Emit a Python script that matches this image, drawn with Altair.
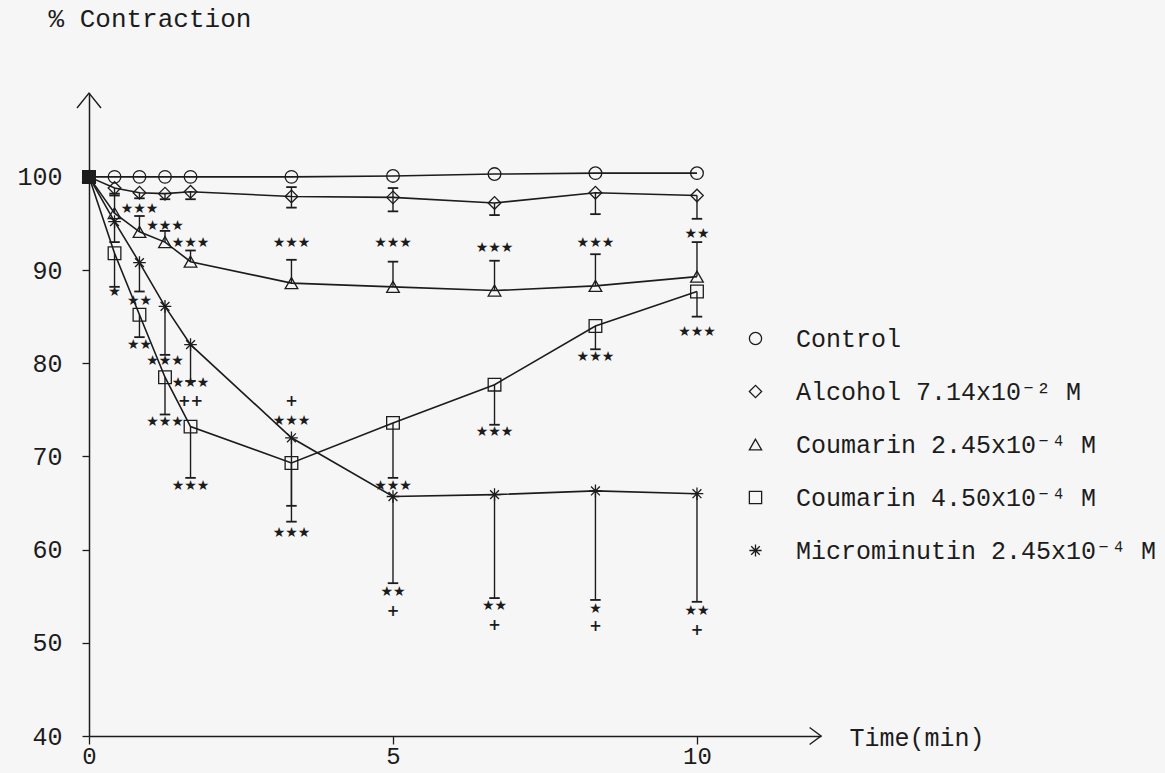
import altair as alt
import pandas as pd

# ---------------- data ----------------
TIME = [0, 0.42, 0.83, 1.25, 1.67, 3.33, 5, 6.67, 8.33, 10]   # minutes

SERIES = [
    "Control",
    "Alcohol 7.14x10⁻² M",
    "Coumarin 2.45x10⁻⁴ M",
    "Coumarin 4.50x10⁻⁴ M",
    "Microminutin 2.45x10⁻⁴ M",
]

CONTROL = [100, 100, 100, 100, 100, 100, 100.1, 100.3, 100.4, 100.4]
ALCOHOL = [100, 98.8, 98.3, 98.2, 98.4, 97.9, 97.8, 97.2, 98.3, 98.0]
COU245 = [100, 96.1, 94.1, 93.0, 90.9, 88.6, 88.2, 87.8, 88.3, 89.3]
COU450 = [100, 91.8, 85.2, 78.5, 73.2, 69.3, 73.6, 77.7, 84.0, 87.7]
MICRO = [100, 95.2, 90.8, 86.1, 82.0, 72.0, 65.7, 65.9, 66.3, 66.0]

# error-bar ends (None = no bar drawn)
ALCOHOL_LO = [None, 98.0, 97.7, 97.6, 97.6, 96.7, 96.3, 95.9, 96.0, 95.5]
ALCOHOL_HI = [None, None, None, None, None, 98.9, 98.8, None, None, None]
COU245_HI = [None, 98.2, 95.8, 94.2, 92.1, 91.1, 90.9, 91.0, 91.7, 93.0]
COU450_LO = [None, 88.2, 82.8, 74.5, 67.7, 63.0, 67.7, 73.4, 81.5, 85.0]
MICRO_LO = [None, 93.0, 87.7, 80.9, 78.1, 64.7, 56.4, 54.8, 54.6, 54.4]

# significance marks: time, level, text
ANN_T = [0.83, 1.25, 1.67, 3.33, 5, 6.67, 8.33, 10,
         0.42, 0.83, 1.25, 1.67, 3.33, 5, 6.67, 8.33, 10,
         0.83, 1.25, 1.67, 1.67, 3.33, 3.33, 5, 5, 6.67, 6.67, 8.33, 8.33, 10, 10]
ANN_Y = [96.6, 94.7, 92.9, 92.9, 92.9, 92.4, 92.9, 93.9,
         87.6, 82.0, 73.7, 66.8, 61.8, 66.8, 72.6, 80.7, 83.3,
         86.7, 80.2, 77.9, 75.9, 73.8, 75.9, 55.5, 53.4, 53.9, 51.9, 53.6, 51.8, 53.4, 51.4]
ANN_TEXT = ["★★★", "★★★", "★★★", "★★★", "★★★", "★★★", "★★★", "★★",
            "★", "★★", "★★★", "★★★", "★★★", "★★★", "★★★", "★★★", "★★★",
            "★★", "★★★", "★★★", "++", "★★★", "+", "★★", "+", "★★", "+", "★", "+", "★★", "+"]

X_TICKS = [0, 5, 10]
Y_TICKS = [40, 50, 60, 70, 80, 90, 100]
X_MAX = 12.04
Y_MIN = 40
Y_MAX = 109

# ---------------- tables ----------------
VALUES = [CONTROL, ALCOHOL, COU245, COU450, MICRO]
rows = []
for s, vals in zip(SERIES, VALUES):
    for t, v in zip(TIME, vals):
        rows.append({"series": s, "t": t, "v": v})
df = pd.DataFrame(rows)

ERR_ENDS = [
    (SERIES[1], ALCOHOL, ALCOHOL_LO),
    (SERIES[1], ALCOHOL, ALCOHOL_HI),
    (SERIES[2], COU245, COU245_HI),
    (SERIES[3], COU450, COU450_LO),
    (SERIES[4], MICRO, MICRO_LO),
]
erows = []
for s, vals, ends in ERR_ENDS:
    for t, v, e in zip(TIME, vals, ends):
        if e is not None:
            erows.append({"series": s, "t": t, "v": v, "end": e})
err = pd.DataFrame(erows)

ann = pd.DataFrame({"t": ANN_T, "v": ANN_Y, "txt": ANN_TEXT})

MONO = "Liberation Mono, DejaVu Sans Mono, monospace"
INK = "#1c1c1c"
ASTERISK = "M-1,0L1,0M0,-1L0,1M-0.7,-0.7L0.7,0.7M-0.7,0.7L0.7,-0.7"

x_enc = alt.X(
    "t:Q",
    scale=alt.Scale(domain=[0, X_MAX], nice=False, zero=False),
    axis=alt.Axis(
        values=X_TICKS, format="d", title="Time(min)", grid=False, labelFlush=False,
        domainColor=INK, domainWidth=1.5, tickColor=INK, tickWidth=1.3, tickSize=8,
        labelFont=MONO, labelFontSize=24, labelColor=INK, labelPadding=0,
        titleFont=MONO, titleFontSize=25, titleFontWeight="normal", titleColor=INK,
        titleX=760, titleY=1, titleAlign="left", titleBaseline="middle", titleAngle=0,
    ),
)
y_enc = alt.Y(
    "v:Q",
    scale=alt.Scale(domain=[Y_MIN, Y_MAX], nice=False, zero=False),
    axis=alt.Axis(
        values=Y_TICKS, title="% Contraction", grid=False, labelFlush=False,
        domainColor=INK, domainWidth=1.5, tickColor=INK, tickWidth=1.3, tickSize=7,
        labelFont=MONO, labelFontSize=25, labelColor=INK, labelPadding=20,
        titleFont=MONO, titleFontSize=26, titleFontWeight="normal", titleColor=INK,
        titleAngle=0, titleX=-41, titleY=-75, titleAlign="left", titleBaseline="middle",
    ),
)

lines = alt.Chart(df).mark_line(color=INK, strokeWidth=1.6).encode(
    x=x_enc, y=y_enc, detail="series:N", order="t:Q"
)

bars = alt.Chart(err).mark_rule(color=INK, strokeWidth=1.4).encode(
    x="t:Q", y="v:Q", y2="end:Q"
)
caps = alt.Chart(err).mark_point(
    shape="M-1,0L1,0", size=110, color=INK, strokeWidth=1.8, filled=False, opacity=1
).encode(x="t:Q", y="end:Q")

points = alt.Chart(df).mark_point(
    filled=False, color=INK, size=160, strokeWidth=1.3, opacity=1
).encode(
    x="t:Q",
    y="v:Q",
    shape=alt.Shape(
        "series:N",
        scale=alt.Scale(domain=SERIES,
                        range=["circle", "diamond", "triangle-up", "square", ASTERISK]),
        legend=alt.Legend(
            title=None, orient="none", legendX=654, legendY=233,
            labelFont=MONO, labelFontSize=25, labelColor=INK, labelLimit=500,
            symbolStrokeColor=INK, symbolFillColor="transparent", symbolStrokeWidth=1.3,
            symbolSize=150, rowPadding=27, labelOffset=28, padding=0,
        ),
    ),
)

origin = alt.Chart(df).transform_filter(alt.datum.t == 0).mark_point(
    shape="square", filled=True, color=INK, size=190, opacity=1
).encode(x="t:Q", y="v:Q")

marks = alt.Chart(ann).mark_text(
    font="DejaVu Sans", fontWeight="bold", color=INK, baseline="middle"
).encode(
    x="t:Q", y="v:Q", text="txt:N",
    size=alt.condition("indexof(datum.txt, '+') >= 0", alt.value(15), alt.value(14)),
)

x_arrow = alt.Chart(pd.DataFrame({"t": [X_MAX], "v": [Y_MIN]})).mark_point(
    shape="M-1,-0.75L0,0L-1,0.75", size=520, color=INK, strokeWidth=1.4, filled=False, opacity=1
).encode(x="t:Q", y="v:Q")
y_arrow = alt.Chart(pd.DataFrame({"t": [0], "v": [Y_MAX]})).mark_point(
    shape="M-0.8,1L0,0L0.8,1", size=900, color=INK, strokeWidth=1.4, filled=False, opacity=1
).encode(x="t:Q", y="v:Q")

chart = alt.layer(lines, bars, caps, points, origin, marks, x_arrow, y_arrow).properties(
    width=732,
    height=643,
    autosize=alt.AutoSizeParams(type="none"),
    padding={"left": 89, "top": 93, "right": 344, "bottom": 37},
    background="#f6f6f6",
).configure_view(stroke=None)

chart.save("out.html", embed_options={"renderer": "svg", "actions": False})
